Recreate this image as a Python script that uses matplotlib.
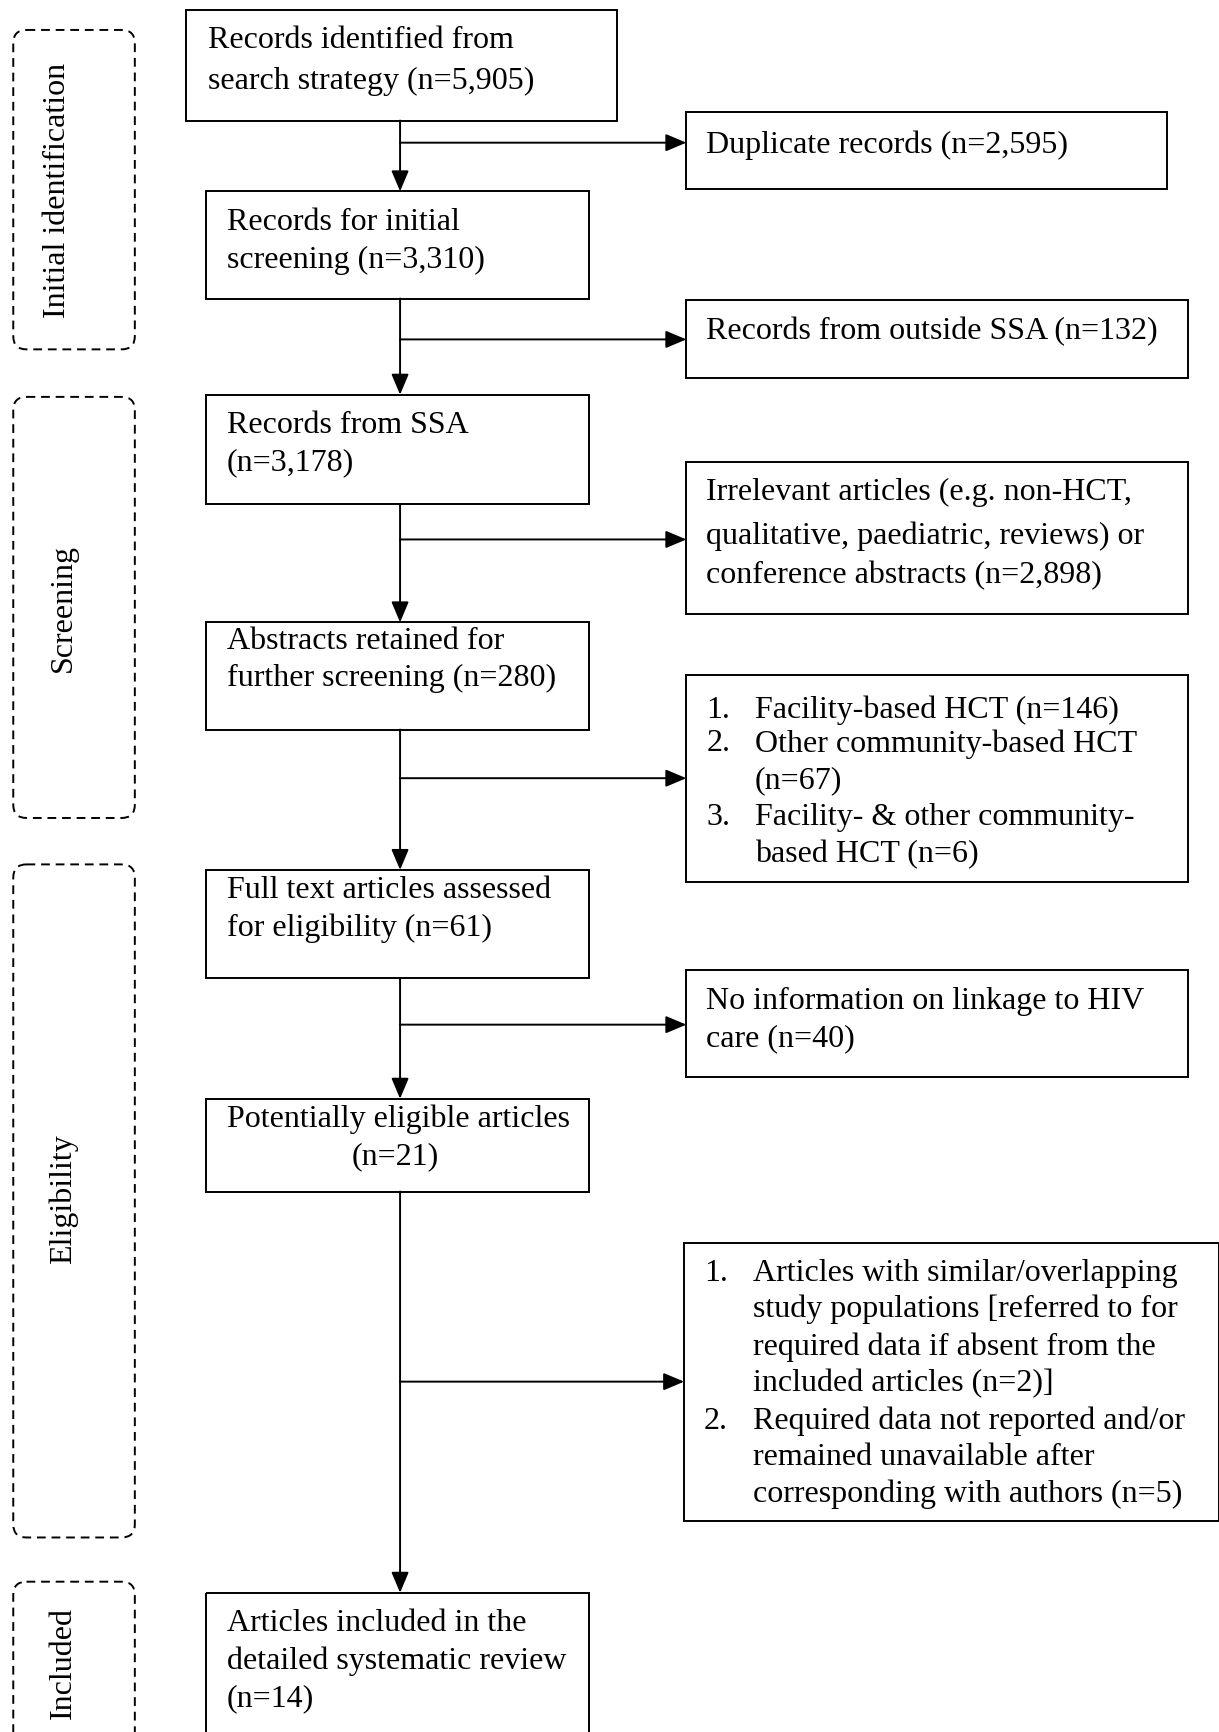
import matplotlib
matplotlib.use('Agg')
import matplotlib.pyplot as plt
from matplotlib.patches import Rectangle, FancyBboxPatch

plt.rcParams['font.family'] = ['Liberation Serif', 'DejaVu Serif']

# stage labels down the left side
stages = ['Initial identification', 'Screening', 'Eligibility', 'Included']

# main column boxes (top to bottom)
main_text = [
    ['Records identified from', 'search strategy (n=5,905)'],
    ['Records for initial', 'screening (n=3,310)'],
    ['Records from SSA', '(n=3,178)'],
    ['Abstracts retained for', 'further screening (n=280)'],
    ['Full text articles assessed', 'for eligibility (n=61)'],
    ['Potentially eligible articles', '(n=21)'],
    ['Articles included in the', 'detailed systematic review', '(n=14)'],
]

# excluded boxes on the right; (number, text) per line, number '' = continuation
side_text = [
    [('', 'Duplicate records (n=2,595)')],
    [('', 'Records from outside SSA (n=132)')],
    [('', 'Irrelevant articles (e.g. non-HCT,'),
     ('', 'qualitative, paediatric, reviews) or'),
     ('', 'conference abstracts (n=2,898)')],
    [('1.', 'Facility-based HCT (n=146)'),
     ('2.', 'Other community-based HCT'),
     (' ', '(n=67)'),
     ('3.', 'Facility- & other community-'),
     (' ', 'based HCT (n=6)')],
    [('', 'No information on linkage to HIV'),
     ('', 'care (n=40)')],
    [('1.', 'Articles with similar/overlapping'),
     (' ', 'study populations [referred to for'),
     (' ', 'required data if absent from the'),
     (' ', 'included articles (n=2)]'),
     ('2.', 'Required data not reported and/or'),
     (' ', 'remained unavailable after'),
     (' ', 'corresponding with authors (n=5)')],
]

# ---- layout (in pixel units of a 1103 x 1568 canvas, y downwards) ----
W, H = 1103, 1568
stage_boxes = [(12, 28, 110, 289), (12, 360, 110, 381), (12, 783, 110, 609), (12, 1432, 110, 160)]
stage_label_pos = [(52, 172), (57, 550), (57, 1085), (57, 1505)]

main_boxes = [(168, 10, 390, 100), (186, 174, 347, 97), (186, 358, 347, 99),
              (186, 564, 347, 97), (186, 788, 347, 98), (186, 995, 347, 84),
              (186, 1442, 347, 140)]
main_lines_y = [[37, 74], [201, 236], [385, 419], [580, 614], [806, 840],
                [1013, 1047], [1469, 1503, 1537]]

side_boxes = [(621, 102, 435, 70), (621, 272, 454, 71), (621, 419, 454, 137),
              (621, 612, 454, 187), (621, 879, 454, 96), (619, 1126, 484, 251)]
side_lines_y = [[131], [300], [446, 485, 521], [643, 673, 706, 740, 773],
                [906, 940], [1152, 1185, 1219, 1252, 1286, 1319, 1352]]
branch_y = [130, 308, 489, 705, 928, 1251]

spine_x = 362
fs = 23
lw = 1.4

fig = plt.figure(figsize=(12.19, 17.33), dpi=100)
ax = fig.add_axes([0, 0, 1, 1])
ax.set_xlim(0, W)
ax.set_ylim(H, 0)
ax.axis('off')

head = '-|>,head_length=0.9,head_width=0.38'


def arrow(x0, y0, x1, y1):
    ax.annotate('', xy=(x1, y1), xytext=(x0, y0),
                arrowprops=dict(arrowstyle=head, mutation_scale=14, lw=lw,
                                color='black', shrinkA=0, shrinkB=0))


# stage boxes
for (x, y, w, h), label, (lx, ly) in zip(stage_boxes, stages, stage_label_pos):
    ax.add_patch(FancyBboxPatch((x + 12, y + 12), w - 24, h - 24,
                                boxstyle='round,pad=12', fill=False,
                                ec='black', lw=lw, ls=(0, (4.5, 3))))
    ax.text(lx, ly, label, rotation=90, ha='center', va='center', fontsize=fs)

# main boxes
for i, ((x, y, w, h), lines, ys) in enumerate(zip(main_boxes, main_text, main_lines_y)):
    ax.add_patch(Rectangle((x, y), w, h, fill=False, ec='black', lw=lw))
    pad = 20 if i == 0 else 19
    for j, (line, ty) in enumerate(zip(lines, ys)):
        if i == 5 and j == 1:
            ax.text(x + w / 2 - 2, ty, line, ha='center', va='center', fontsize=fs)
        else:
            ax.text(x + pad, ty, line, ha='left', va='center', fontsize=fs)

# spine arrows between main boxes
for (x0, y0, w0, h0), (x1, y1, w1, h1) in zip(main_boxes[:-1], main_boxes[1:]):
    arrow(spine_x, y0 + h0, spine_x, y1)

# side boxes with branch arrows
for (x, y, w, h), lines, ys, by in zip(side_boxes, side_text, side_lines_y, branch_y):
    ax.add_patch(Rectangle((x, y), w, h, fill=False, ec='black', lw=lw))
    for (num, line), ty in zip(lines, ys):
        if num == '':
            ax.text(x + 18, ty, line, ha='left', va='center', fontsize=fs)
        else:
            ax.text(x + 18, ty, num.strip(), ha='left', va='center', fontsize=fs)
            ax.text(x + 62, ty, line, ha='left', va='center', fontsize=fs)
    arrow(spine_x, by, x, by)

fig.savefig('out.png', dpi=100)
